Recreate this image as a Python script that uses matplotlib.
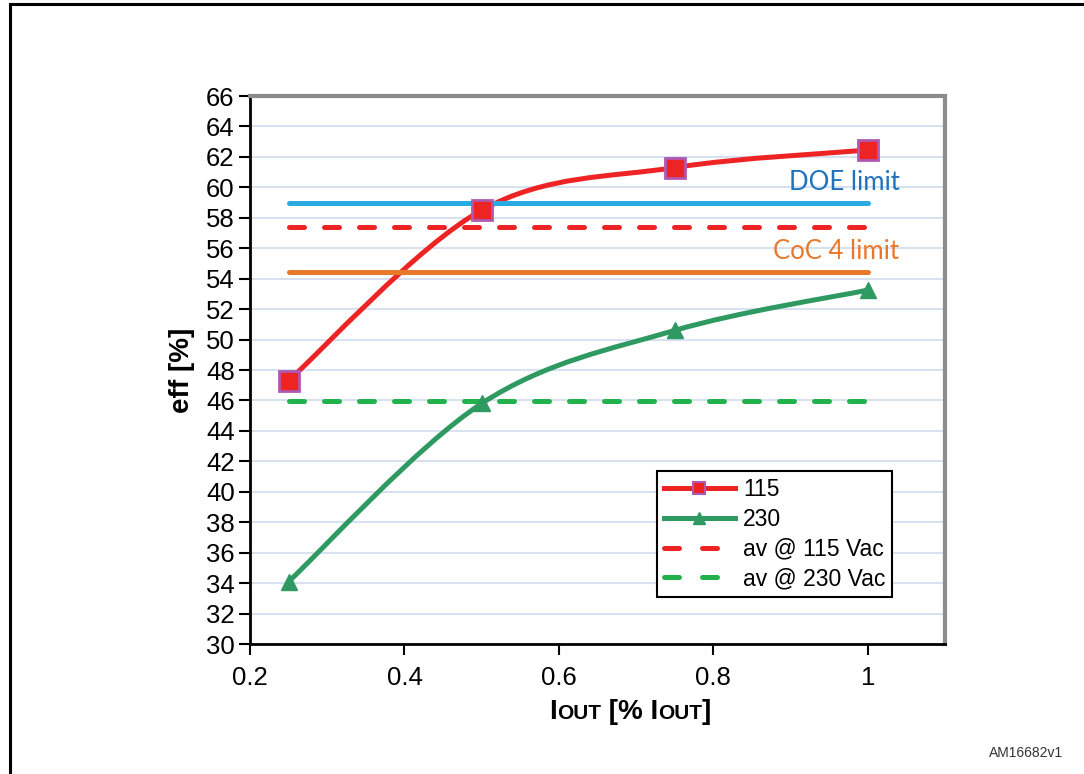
import numpy as np
import matplotlib
matplotlib.use("Agg")
import matplotlib.pyplot as plt
from matplotlib.path import Path
from matplotlib.patches import PathPatch
from matplotlib.lines import Line2D
from matplotlib.offsetbox import TextArea, HPacker, AnchoredOffsetbox

plt.rcParams['font.family'] = ['Liberation Sans', 'DejaVu Sans']

# ---- Data ----
iout = [0.25, 0.5, 0.75, 1.0]
eff_115 = [47.3, 58.5, 61.3, 62.45]
eff_230 = [34.1, 45.8, 50.6, 53.25]

limit_x = [0.25, 1.0]
doe_limit = 59.0
coc4_limit = 54.45
av_115 = 57.4
av_230 = 45.95

y_ticks = list(range(30, 67, 2))
x_ticks = [0.2, 0.4, 0.6, 0.8, 1.0]
x_ticklabels = ["0.2", "0.4", "0.6", "0.8", "1"]

# ---- Colours ----
red = "#ee2424"
purple = "#b058b0"
green = "#2e9a62"
green_dash = "#22b24c"
blue = "#29abe2"
orange = "#e8782a"
grid_c = "#cfdbee"


def smooth_path(xs, ys):
    # Excel-style smoothed line: cubic Bezier through the points
    p = np.column_stack((xs, ys)).astype(float)
    ext = np.vstack((p[0], p, p[-1]))
    verts = [p[0]]
    codes = [Path.MOVETO]
    for i in range(len(p) - 1):
        p0, p1, p2, p3 = ext[i], ext[i + 1], ext[i + 2], ext[i + 3]
        c1 = p1 + (p2 - p0) / 6.0
        c2 = p2 - (p3 - p1) / 6.0
        verts += [c1, c2, p2]
        codes += [Path.CURVE4] * 3
    return Path(verts, codes)


fig = plt.figure(figsize=(10.84, 7.74), dpi=100)
ax = fig.add_axes([250 / 1084, 1 - 644 / 774, 695 / 1084, 548 / 774])

ax.set_xlim(0.2, 1.1)
ax.set_ylim(30, 66)
ax.set_yticks(y_ticks)
ax.set_xticks(x_ticks)
ax.set_xticklabels(x_ticklabels)
ax.yaxis.grid(True, color=grid_c, lw=1.2)
ax.set_axisbelow(True)

ax.tick_params(axis='both', labelsize=18.5, direction='out', length=8,
               width=1.5, color='black')
ax.tick_params(axis='y', pad=3)
ax.tick_params(axis='x', pad=8)

for side in ['left', 'bottom']:
    ax.spines[side].set_color('black')
    ax.spines[side].set_linewidth(2)
for side in ['top', 'right']:
    ax.spines[side].set_color('#8c8c8c')
    ax.spines[side].set_linewidth(3)

# horizontal reference lines
ax.plot(limit_x, [doe_limit] * 2, color=blue, lw=3.6, solid_capstyle='round')
ax.plot(limit_x, [coc4_limit] * 2, color=orange, lw=3.6, solid_capstyle='round')
ax.plot(limit_x, [av_115] * 2, color=red, lw=3.6, dashes=(3, 4),
        dash_capstyle='round')
ax.plot(limit_x, [av_230] * 2, color=green_dash, lw=3.6, dashes=(3, 4),
        dash_capstyle='round')

# smoothed curves
ax.add_patch(PathPatch(smooth_path(iout, eff_115), fill=False, edgecolor=red,
                       lw=3.6, capstyle='round'))
ax.add_patch(PathPatch(smooth_path(iout, eff_230), fill=False, edgecolor=green,
                       lw=3.6, capstyle='round'))
ax.plot(iout, eff_115, ls='none', marker='s', ms=14, mfc=red, mec=purple, mew=2)
ax.plot(iout, eff_230, ls='none', marker='^', ms=12, mfc=green, mec=green)

ax.text(1.042, doe_limit + 0.5, "DOE limit", color="#1f72bb", fontsize=18.5,
        family=['Lato', 'DejaVu Sans'], ha='right', va='bottom')
ax.text(1.040, coc4_limit + 0.5, "CoC 4 limit", color=orange, fontsize=18.5,
        family=['Lato', 'DejaVu Sans'], ha='right', va='bottom')

handles = [
    Line2D([], [], color=red, lw=3.6, marker='s', ms=9, mfc=red, mec=purple, mew=1.5),
    Line2D([], [], color=green, lw=3.6, marker='^', ms=9, mfc=green, mec=green),
    Line2D([], [], color=red, lw=3.6, dashes=(3, 4.6), dash_capstyle='round'),
    Line2D([], [], color=green_dash, lw=3.6, dashes=(3, 4.6), dash_capstyle='round'),
]
labels = ["115", "230", "av @ 115 Vac", "av @ 230 Vac"]
leg = ax.legend(handles, labels, loc='upper left',
                bbox_to_anchor=((657 - 250) / 695, (644 - 471) / 548),
                fontsize=16.5, frameon=True, fancybox=False, framealpha=1,
                edgecolor='black', handlelength=3.1, handletextpad=0.35,
                labelspacing=0.3, borderpad=0.3, borderaxespad=0)
leg.get_frame().set_linewidth(1.5)

ax.set_ylabel("eff [%]", fontsize=20, fontweight='bold', labelpad=8)

# x label with small caps "OUT"
parts = [("I", 20), ("OUT", 15), (" [% I", 20), ("OUT", 15), ("]", 20)]
boxes = [TextArea(t, textprops=dict(fontsize=s, fontweight='bold')) for t, s in parts]
pack = HPacker(children=boxes, align="baseline", pad=0, sep=0)
xlab = AnchoredOffsetbox(loc='center', child=pack, frameon=False,
                         bbox_to_anchor=(630 / 1084, 1 - 712 / 774),
                         bbox_transform=fig.transFigure, borderpad=0, pad=0)
fig.add_artist(xlab)

fig.text(1063 / 1084, 1 - 757 / 774, "AM16682v1", fontsize=10, color='#333333',
         ha='right', va='baseline')

# outer frame (left and top edges visible)
fig.add_artist(Line2D([10 / 1084, 10 / 1084], [0, 1 - 4 / 774], color='black',
                      lw=2.2, transform=fig.transFigure))
fig.add_artist(Line2D([10 / 1084, 1], [1 - 4 / 774, 1 - 4 / 774], color='black',
                      lw=2.2, transform=fig.transFigure))

fig.savefig("out.png", dpi=100)
